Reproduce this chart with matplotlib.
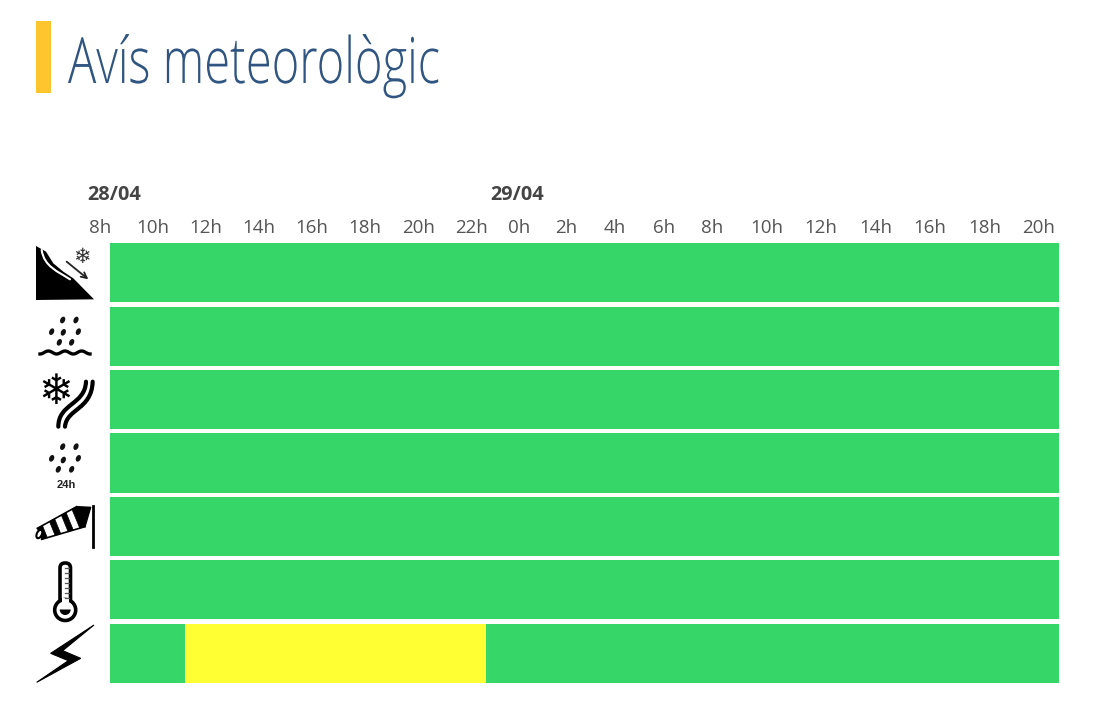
import numpy as np
import matplotlib
matplotlib.use("Agg")
import matplotlib.pyplot as plt
import matplotlib.patheffects as pe
from matplotlib.patches import Polygon, Ellipse, Circle, FancyBboxPatch, PathPatch, Rectangle, Wedge
from matplotlib.path import Path
from matplotlib.transforms import Affine2D

title = "Avís meteorològic"
hour_labels = ["8h", "10h", "12h", "14h", "16h", "18h", "20h", "22h", "0h", "2h",
               "4h", "6h", "8h", "10h", "12h", "14h", "16h", "18h", "20h"]
hours = list(range(0, 38, 2))  # hours since 8h on 28/04
date_labels = ["28/04", "29/04"]
date_hours = [0.55, 15.92]
n_rows = 7
period = (0.38, 37.05)
# row index, start, end (in hours since 8h on 28/04)
warning_rows = [6]
warning_starts = [3.2]
warning_ends = [14.6]

GREEN = "#36D669"
YELLOW = "#FFFF33"
W, H = 1100, 710

# the header labels are not evenly spaced in the source, so the x scale follows them
label_px = [100, 153, 206, 259, 312, 365, 419, 472, 519, 566, 615, 664, 712, 767, 821, 876, 930, 985, 1039]
knot_h = np.array([-0.45] + hours + [37.1])
knot_px = np.array([88.0] + label_px + [1060.0])


def h_to_px(x):
    return np.interp(x, knot_h, knot_px)


def px_to_h(x):
    return np.interp(x, knot_px, knot_h)


class Condensed(pe.AbstractPathEffect):
    # squeezes the text horizontally, there is no condensed Open Sans installed
    def __init__(self, sx):
        super().__init__()
        self.sx = sx

    def draw_path(self, renderer, gc, tpath, affine, rgbFace=None):
        renderer.draw_path(gc, tpath, Affine2D().scale(self.sx, 1) + affine, rgbFace)


fig = plt.figure(figsize=(W / 100, H / 100), dpi=100, facecolor="white")

ax = fig.add_axes([88 / W, 1 - 683 / H, (1060 - 88) / W, 440 / H])
ax.set_xscale("function", functions=(h_to_px, px_to_h))
ax.set_xlim(-0.45, 37.1)
ax.set_ylim(n_rows - 0.53, -0.47)
ax.barh(range(n_rows), period[1] - period[0], left=period[0], height=0.933, color=GREEN)
for row, start, end in zip(warning_rows, warning_starts, warning_ends):
    ax.barh(row, end - start, left=start, height=0.933, color=YELLOW)
for side in ax.spines.values():
    side.set_visible(False)
ax.set_yticks([])
ax.set_xticks(hours)
ax.set_xticklabels(hour_labels, fontfamily="Open Sans", fontsize=13.5, color="#555555")
ax.xaxis.set_minor_locator(matplotlib.ticker.NullLocator())
ax.tick_params(axis="x", top=True, bottom=False, labeltop=True, labelbottom=False, length=0, pad=4)
trans = ax.get_xaxis_transform()
for lab, h in zip(date_labels, date_hours):
    ax.text(h, 1.11, lab, transform=trans, ha="center", va="center", fontfamily="Open Sans",
            fontweight="bold", fontsize=14.3, color="#444444")

# overlay in pixel coordinates for heading and icons
ov = fig.add_axes([0, 0, 1, 1], facecolor="none")
ov.set_xlim(0, W)
ov.set_ylim(H, 0)
ov.axis("off")

ov.add_patch(Rectangle((36, 21), 14.5, 72, color="#FFC52F", lw=0))
ov.text(68, 83, title, fontfamily="Open Sans", fontweight="light", fontsize=46, color="#2F5580",
        va="baseline", ha="left", path_effects=[Condensed(0.737)])


def top(pts):
    return [(20 + x / 3, 170 + y / 3) for x, y in pts]


def bot(pts):
    return [(20 + x / 3, 430 + y / 3) for x, y in pts]


def drops(pts):
    for x, y in pts:
        ov.add_patch(Ellipse((x, y), 4.8, 7, angle=25, color="#111111", lw=0))


def curve(pts, lw, color="black"):
    codes = [Path.MOVETO, Path.CURVE4, Path.CURVE4, Path.CURVE4]
    ov.add_patch(PathPatch(Path(pts, codes), fill=False, lw=lw, ec=color, capstyle="round"))


# avalanche
ov.add_patch(Polygon(top([(48, 228), (78, 245), (100, 280), (130, 305), (160, 325), (222, 388), (48, 390)]),
                     color="black", lw=0))
curve(top([(65, 240), (72, 290), (115, 305), (150, 328)]), 1.5, "white")
ov.annotate("", xy=top([(205, 328)])[0], xytext=top([(140, 275)])[0],
            arrowprops=dict(arrowstyle="->", lw=1.3, color="#222222", shrinkA=0, shrinkB=0))
ov.text(82, 257, "\u2744", fontfamily="DejaVu Sans", fontsize=15, ha="center", va="center", color="#333333")

# rain over water
drops(top([(128, 450), (168, 450), (95, 485), (130, 487), (175, 485), (118, 517), (155, 517)]))
xw = np.linspace(40, 90, 80)
ov.plot(xw, 352.5 + 1.5 * np.cos((xw - 40) / 50 * 2 * np.pi * 3), color="black", lw=2.4)

# snow on road
ov.text(56, 392, "\u2744", fontfamily="DejaVu Sans", fontsize=30, fontweight="bold", ha="center", va="center", color="black")
curve(top([(198, 635), (195, 705), (115, 700), (115, 770)]), 3)
curve(top([(218, 635), (215, 720), (140, 715), (135, 770)]), 3)

# rain 24h
drops(bot([(128, 50), (168, 50), (95, 85), (130, 90), (175, 85), (115, 118), (155, 118)]))
ov.text(66, 485, "24h", fontfamily="Liberation Sans", fontweight="bold", fontsize=8, ha="center", va="center", color="#222222")

# windsock
ov.plot(*zip(*bot([(220, 228), (220, 352)])), color="black", lw=2)
t_top = np.array([52, 295]), np.array([170, 230])
t_bot = np.array([65, 328]), np.array([195, 290])
for a, b in [(0.0, 0.13), (0.31, 0.44), (0.61, 0.73), (0.88, 1.0)]:
    quad = [t_top[0] + a * (t_top[1] - t_top[0]), t_top[0] + b * (t_top[1] - t_top[0]),
            t_bot[0] + b * (t_bot[1] - t_bot[0]), t_bot[0] + a * (t_bot[1] - t_bot[0])]
    ov.add_patch(Polygon(bot(quad), color="black", lw=0.5, joinstyle="round"))
ov.add_patch(Polygon(bot([(170, 230), (212, 232), (195, 290)]), color="black", lw=1, joinstyle="round"))
ov.plot(*zip(*bot([(52, 295), (170, 230)])), color="black", lw=1.2)
ov.plot(*zip(*bot([(65, 328), (195, 290)])), color="black", lw=1.2)
ov.add_patch(Ellipse(bot([(58, 312)])[0], 5, 9, angle=25, fc="white", ec="black", lw=1.5))

# thermometer
ov.add_patch(FancyBboxPatch((60, 563), 10.5, 46, boxstyle="round,pad=0,rounding_size=5", fc="white", ec="black", lw=2.6))
ov.add_patch(Circle((65.2, 610), 10.5, fc="white", ec="black", lw=2.6))
ov.add_patch(Rectangle((62, 598), 6.5, 8, color="white", lw=0))
ov.add_patch(Wedge((65.2, 609.5), 5.5, 0, 180, color="black", lw=0))
for y in range(568, 600, 5):
    ov.plot([65, 69], [y, y], color="#555555", lw=0.9)

# lightning
ov.add_patch(Polygon(bot([(222, 585), (92, 670), (145, 692), (50, 757), (182, 685), (128, 662)]),
                     fc="black", ec="black", lw=0.8))

fig.savefig("out.png", dpi=100, facecolor="white")
